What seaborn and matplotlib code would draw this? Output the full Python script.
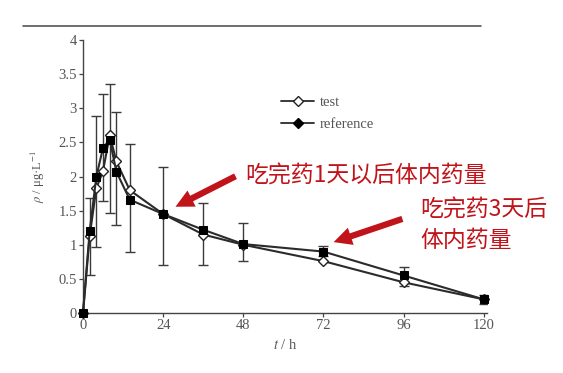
import matplotlib
matplotlib.use("Agg")
import matplotlib.pyplot as plt
import seaborn as sns
import pandas as pd
from matplotlib.lines import Line2D
from matplotlib.patches import FancyArrowPatch

# ---- data ----
t_hours = [0, 2, 4, 6, 8, 10, 14, 24, 36, 48, 72, 96, 120]
test_vals = [0, 1.13, 1.83, 2.08, 2.61, 2.22, 1.80, 1.45, 1.15, 1.00, 0.76, 0.45, 0.20]
ref_vals = [0, 1.20, 2.00, 2.42, 2.54, 2.07, 1.66, 1.45, 1.22, 1.01, 0.90, 0.55, 0.20]
err_top = [0, 1.69, 2.88, 3.21, 3.36, 2.94, 2.47, 2.14, 1.61, 1.32, 0.98, 0.67, 0.26]
err_bottom = [0, 0.56, 0.97, 1.64, 1.46, 1.29, 0.90, 0.71, 0.71, 0.76, 0.84, 0.40, 0.13]
x_ticks = [0, 24, 48, 72, 96, 120]
y_ticks = [0, 0.5, 1, 1.5, 2, 2.5, 3, 3.5, 4]
y_ticklabels = ["0", "0.5", "1", "1.5", "2", "2.5", "3", "3.5", "4"]
series_names = ["test", "reference"]
note1 = "吃完药1天以后体内药量"
note2 = "吃完药3天后\n体内药量"

sns.set_theme(style="white")
plt.rcParams["font.family"] = ["Liberation Serif", "DejaVu Serif"]
plt.rcParams["mathtext.fontset"] = "stix"

fig = plt.figure(figsize=(5.63, 3.73), dpi=100)
ax = fig.add_axes([83 / 563, 1 - 313 / 373, 404 / 563, 273 / 373])

line_col = "#2b2b2b"
gray_txt = "#555555"

# error bars
mid = [(a + b) / 2 for a, b in zip(err_top, err_bottom)]
lo = [m - b for m, b in zip(mid, err_bottom)]
hi = [a - m for a, m in zip(err_top, mid)]
ax.errorbar(t_hours[1:], mid[1:], yerr=[lo[1:], hi[1:]], fmt="none",
            ecolor="#3a3a3a", elinewidth=1.0, capsize=3.5, capthick=1.0, zorder=2)

df_test = pd.DataFrame({"t": t_hours, "rho": test_vals})
df_ref = pd.DataFrame({"t": t_hours, "rho": ref_vals})
sns.lineplot(data=df_test, x="t", y="rho", ax=ax, color=line_col, lw=1.5,
             marker="D", markersize=5, markerfacecolor="white",
             markeredgecolor="#222222", markeredgewidth=1.0, zorder=3, clip_on=False)
sns.lineplot(data=df_ref, x="t", y="rho", ax=ax, color=line_col, lw=1.5,
             marker="s", markersize=5.5, markerfacecolor="black",
             markeredgecolor="black", zorder=4, clip_on=False)

ax.set_xlim(0, 121)
ax.set_ylim(0, 4)
ax.set_xticks(x_ticks)
ax.set_xticklabels([str(v) for v in x_ticks])
ax.set_yticks(y_ticks)
ax.set_yticklabels(y_ticklabels)
ax.tick_params(axis="both", direction="out", length=3, width=0.9,
               colors="#444444", labelcolor=gray_txt, labelsize=10.5, pad=1.5,
               left=True, bottom=True)
for s in ["top", "right"]:
    ax.spines[s].set_visible(False)
for s in ["left", "bottom"]:
    ax.spines[s].set_color("#444444")
    ax.spines[s].set_linewidth(1.0)

ax.set_xlabel(r"$t$ / h", fontsize=10.5, color=gray_txt, labelpad=4)
ax.set_ylabel(r"$\rho$ / μg·L$^{-1}$", fontsize=9, color=gray_txt, labelpad=8)

# legend
handles = [
    Line2D([], [], color=line_col, lw=1.3, marker="D", markersize=5.5,
           markerfacecolor="white", markeredgecolor="#222222"),
    Line2D([], [], color=line_col, lw=1.3, marker="D", markersize=5.5,
           markerfacecolor="black", markeredgecolor="black"),
]
leg = ax.legend(handles, series_names, loc="upper left",
                bbox_to_anchor=(192 / 404, 1 - 50 / 273), frameon=False,
                fontsize=10.5, handlelength=2.3, handletextpad=0.4,
                labelspacing=0.6, borderaxespad=0)
for txt in leg.get_texts():
    txt.set_color(gray_txt)

# top rule
fig.add_artist(Line2D([23 / 563, 481 / 563], [1 - 26 / 373, 1 - 26 / 373],
                      color="#555555", lw=1.2))

# annotations
red = "#c0141a"
cjk = ["Noto Sans CJK SC", "DejaVu Sans"]
fig.text(245 / 563, 1 - 176 / 373, note1, fontsize=16.5, color=red,
         family=cjk, va="center", ha="left")
fig.text(420 / 563, 1 - 225 / 373, note2, fontsize=16.5, color=red,
         family=cjk, va="center", ha="left", linespacing=1.4)

def px(x, y):
    return (x / 563, 1 - y / 373)

for tail, head in [((238, 175), (173, 208)), ((405, 218), (331, 243))]:
    arr = FancyArrowPatch(px(*tail), px(*head), transform=fig.transFigure,
                          arrowstyle="simple,head_length=1.3,head_width=1.3,tail_width=0.45",
                          mutation_scale=10, color=red, lw=0)
    fig.add_artist(arr)

fig.savefig("out.png", dpi=100)
